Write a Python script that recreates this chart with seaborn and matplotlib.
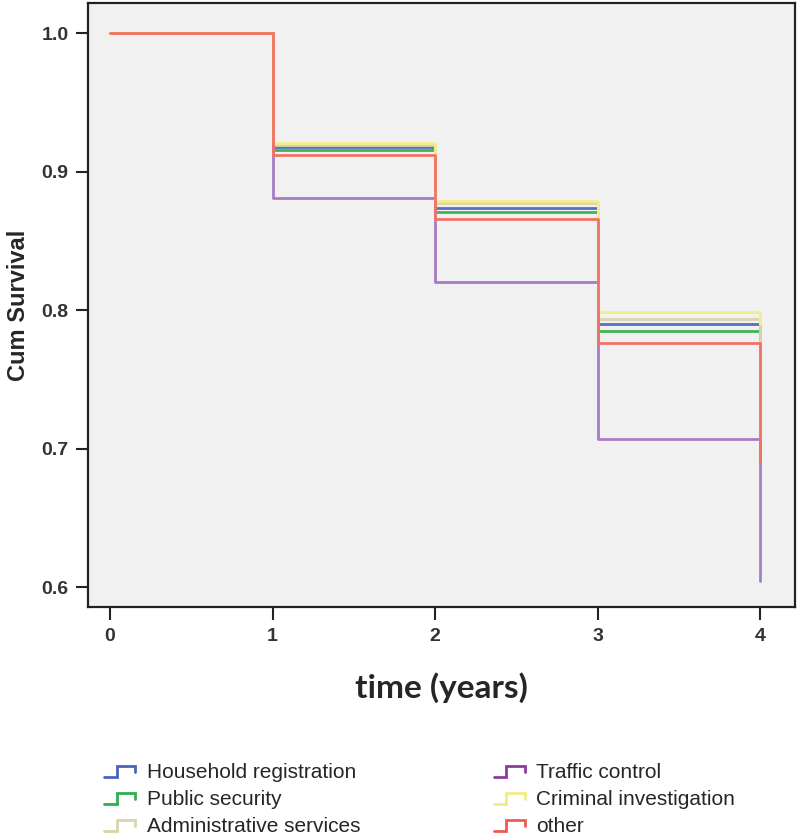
import matplotlib
matplotlib.use("Agg")
import matplotlib.pyplot as plt
import seaborn as sns
import pandas as pd
from matplotlib.lines import Line2D
from matplotlib.legend_handler import HandlerBase

# ---- data ----
times = [0, 1, 2, 3, 4]
groups = ["Household registration", "Public security", "Administrative services",
          "Traffic control", "Criminal investigation", "other"]
household = [1.0, 0.918, 0.8735, 0.790, 0.778]
public_security = [1.0, 0.9155, 0.8705, 0.7848, 0.776]
admin_services = [1.0, 0.9195, 0.877, 0.7933, 0.707]
traffic = [1.0, 0.881, 0.8205, 0.707, 0.604]
criminal = [1.0, 0.9205, 0.879, 0.7988, 0.790]
other = [1.0, 0.912, 0.8655, 0.776, 0.691]
y_ticks = [0.6, 0.7, 0.8, 0.9, 1.0]
x_ticks = [0, 1, 2, 3, 4]

series = [household, public_security, admin_services, traffic, criminal, other]
colors = ["#5570c0", "#3fb556", "#d9d5b0", "#a77cc6", "#f3ee8a", "#f27265"]
legend_colors = ["#4b63c0", "#2fae50", "#d8d4ae", "#8c3aa0", "#f0ec80", "#f05a55"]

rows = []
for g, vals in zip(groups, series):
    for t, v in zip(times, vals):
        rows.append({"time": t, "surv": v, "group": g})
df = pd.DataFrame(rows)

sns.set_style("ticks")
plt.rcParams["font.family"] = ["Liberation Sans", "DejaVu Sans"]

fig = plt.figure(figsize=(8.0, 8.38), dpi=100)
ax = fig.add_axes([0.11, 0.2757, 0.884, 0.7207])
ax.set_facecolor("#f1f1f1")

sns.lineplot(data=df, x="time", y="surv", hue="group", hue_order=groups,
             palette=dict(zip(groups, colors)), estimator=None, sort=False,
             drawstyle="steps-post", linewidth=2.0, legend=False, ax=ax)

ax.set_xlim(-0.135, 4.215)
ax.set_ylim(0.5856, 1.0217)
ax.set_xticks(x_ticks)
ax.set_xticklabels([str(t) for t in x_ticks])
ax.set_yticks(y_ticks)
ax.set_yticklabels([f"{v:.1f}" for v in y_ticks])
ax.tick_params(axis="both", length=9, width=1.5, color="#222222",
               labelsize=14, labelcolor="#333333")
ax.tick_params(axis="y", pad=5)
ax.tick_params(axis="x", pad=6)
for lab in ax.get_xticklabels() + ax.get_yticklabels():
    lab.set_fontweight("bold")
for s in ax.spines.values():
    s.set_linewidth(1.6)
    s.set_color("#222222")

ax.set_ylabel("Cum Survival", fontsize=17, fontweight="bold", labelpad=8)
ax.set_xlabel("time (years)", fontsize=24, fontweight="bold", labelpad=20,
              family=["Lato", "DejaVu Sans"])


class StepHandler(HandlerBase):
    def create_artists(self, legend, orig_handle, xdescent, ydescent, width,
                       height, fontsize, trans):
        x0, y0 = -xdescent, -ydescent
        w, h = width, height
        xs = [x0, x0 + 0.4 * w, x0 + 0.4 * w, x0 + w, x0 + w]
        ys = [y0 + 0.1 * h, y0 + 0.1 * h, y0 + 0.85 * h, y0 + 0.85 * h, y0 + 0.45 * h]
        ln = Line2D(xs, ys, color=orig_handle.get_color(), lw=2.0,
                    solid_joinstyle="miter", transform=trans)
        return [ln]


handles = [Line2D([0], [0], color=c, lw=2.0) for c in legend_colors]
leg_kw = dict(loc="upper left", frameon=False, fontsize=15, handlelength=1.5,
              handletextpad=0.55, labelspacing=0.38, borderaxespad=0, borderpad=0,
              handler_map={Line2D: StepHandler()})
leg1 = fig.legend(handles[:3], groups[:3], bbox_to_anchor=(0.130, 0.089), **leg_kw)
leg2 = fig.legend(handles[3:], groups[3:], bbox_to_anchor=(0.617, 0.089), **leg_kw)

fig.savefig("out.png", dpi=100, facecolor="white")
